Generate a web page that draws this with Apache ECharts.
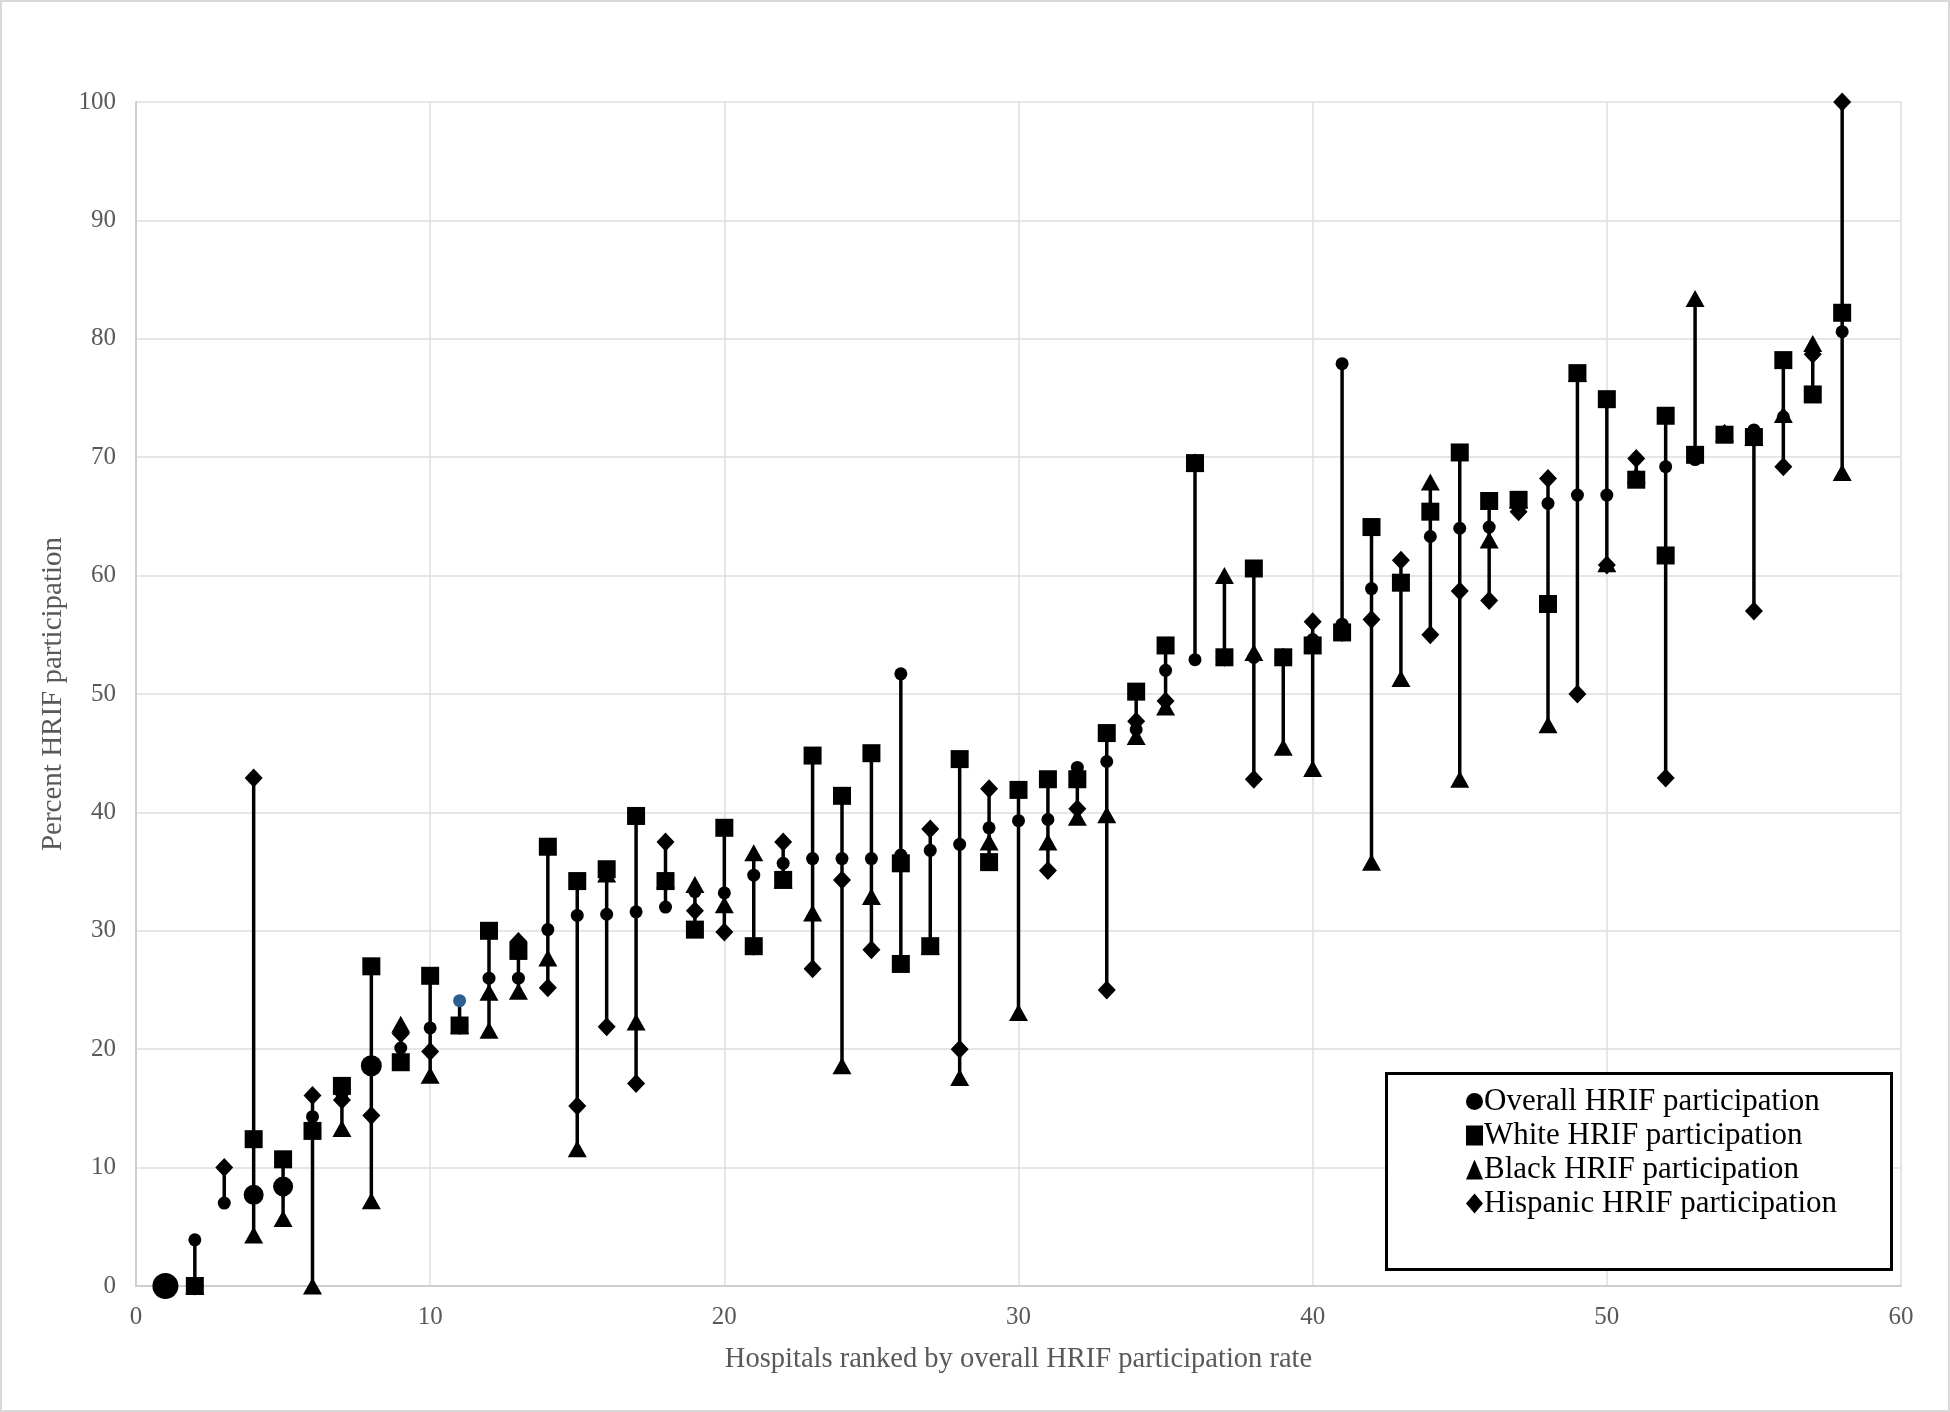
<!DOCTYPE html>
<html>
<head>
<meta charset="utf-8">
<script src="https://cdn.jsdelivr.net/npm/echarts@6/dist/echarts.min.js"></script>
<style>
  html, body { margin: 0; padding: 0; background: #fff; }
  #chart { width: 1950px; height: 1412px; box-sizing: border-box; border: 2px solid #d9d9d9; }
</style>
</head>
<body>
<div id="chart"></div>
<script>
// hospitals ranked by overall HRIF participation
const ranks = [
  1, 2, 3, 4, 5, 6, 7, 8, 9, 10,
  11, 12, 13, 14, 15, 16, 17, 18, 19, 20,
  21, 22, 23, 24, 25, 26, 27, 28, 29, 30,
  31, 32, 33, 34, 35, 36, 37, 38, 39, 40,
  41, 42, 43, 44, 45, 46, 47, 48, 49, 50,
  51, 52, 53, 54, 55, 56, 57, 58
];
const overall = [
  0, 3.9, 7.0, 7.7, 8.4, 14.3, 16.2, 18.6, 20.1, 21.8,
  24.1, 26.0, 26.0, 30.1, 31.3, 31.4, 31.6, 32.0, 33.3, 33.2,
  34.7, 35.7, 36.1, 36.1, 36.1, 36.4, 36.8, 37.3, 38.7, 39.3,
  39.4, 43.8, 44.3, 47.0, 52.0, 52.9, 53.1, 53.1, 53.1, 54.6,
  55.9, 58.9, 59.6, 63.3, 64.0, 64.1, 65.6, 66.1, 66.8, 66.8,
  68.0, 69.2, 69.8, 72.0, 72.3, 73.4, 78.7, 80.6
];
const white = [
  0, 0, null, 12.4, 10.7, 13.1, 16.9, 27.0, 18.9, 26.2,
  22.0, 30.0, 28.3, 37.1, 34.2, 35.2, 39.7, 34.2, 30.1, 38.7,
  28.7, 34.3, 44.8, 41.4, 45.0, 35.7, 28.7, 44.5, 35.8, 41.9,
  42.8, 42.8, 46.7, 50.2, 54.1, 69.5, 53.1, 60.6, 53.1, 54.1,
  55.2, 64.1, 59.4, 65.4, 70.4, 66.3, 66.4, 57.6, 77.1, 74.9,
  68.1, 73.5, 70.2, 71.9, 71.7, 78.2, 75.3, 82.2
];
const black = [
  0, 0, null, 4.3, 5.7, 0, 13.3, 7.2, 22.1, 17.8,
  22.0, 21.6, 24.9, 27.7, 11.6, 34.8, 22.3, 34.3, 33.9, 32.2,
  36.6, 34.3, 31.5, 18.6, 32.9, 27.2, 28.7, 17.6, 37.5, 23.1,
  37.5, 39.6, 39.8, 46.4, 48.9, 69.5, 60.0, 53.5, 45.5, 43.7,
  77.9, 35.8, 51.3, 67.9, 42.8, 63.0, 66.4, 47.4, 77.1, 61.0,
  68.5, 61.7, 83.4, 72.0, 71.7, 73.6, 79.6, 68.7
];
const hispanic = [
  0, 0, 10.0, 42.9, 8.2, 16.1, 15.7, 14.4, 21.3, 19.8,
  22.0, 24.8, 29.1, 25.2, 15.2, 21.9, 17.1, 37.5, 31.7, 29.9,
  28.7, 37.5, 26.8, 34.3, 28.4, 51.7, 38.6, 20.0, 42.0, 41.9,
  35.1, 40.3, 25.0, 47.7, 49.4, 69.5, 53.1, 42.8, 53.1, 56.1,
  55.2, 56.3, 61.3, 55.0, 58.7, 57.9, 65.4, 68.2, 50.0, 60.9,
  69.9, 42.9, 70.2, 72.0, 57.0, 69.2, 78.7, 100
];
const xTicks = [0, 10, 20, 30, 40, 50, 60];
const yTicks = [0, 10, 20, 30, 40, 50, 60, 70, 80, 90, 100];

// marker quirks of the original figure (by rank)
const bigCircle = { 1: 26, 4: 20, 5: 20, 8: 21 };
const blueCircle = [11];
const blackSymbolFix = { 26: 'rect', 41: 'circle', 52: 'rect' };
const hispanicSymbolFix = { 12: 'triangle', 26: 'circle' };

const SERIF = "'Liberation Serif', 'Times New Roman', serif";
const baseSize = { circle: 13, rect: 18, triangle: [19, 17], diamond: [18, 19] };

function points(values, symbol, fix, sizes, colors) {
  return values.map((v, i) => {
    const r = ranks[i];
    if (v === null) return { value: [r, null] };
    const sym = (fix && fix[r]) || symbol;
    const item = { value: [r, v], symbol: sym, symbolSize: (sizes && sizes[r]) || baseSize[sym] };
    if (colors && colors.includes(r)) item.itemStyle = { color: '#2b5f8f' };
    return item;
  });
}

const ranges = ranks.map((r, i) => {
  const vals = [overall[i], white[i], black[i], hispanic[i]].filter(v => v !== null);
  return [r, Math.min(...vals), Math.max(...vals)];
});

const chart = echarts.init(document.getElementById('chart'));

const scatter = (name, data) => ({
  name,
  type: 'scatter',
  data,
  clip: false,
  z: 3,
  itemStyle: { color: '#000', opacity: 1 },
  emphasis: { disabled: true }
});

chart.setOption({
  animation: false,
  textStyle: { fontFamily: SERIF },
  grid: { left: 134, right: 47, top: 100, bottom: 124 },
  xAxis: {
    type: 'value',
    min: xTicks[0],
    max: xTicks[xTicks.length - 1],
    interval: 10,
    name: 'Hospitals ranked by overall HRIF participation rate',
    nameLocation: 'middle',
    nameGap: 59,
    nameTextStyle: { fontSize: 28.5, color: '#595959', fontFamily: SERIF },
    axisLine: { show: true, lineStyle: { color: '#cfcfcf', width: 2 } },
    axisTick: { show: false },
    axisLabel: { fontSize: 25, color: '#595959', margin: 19, fontFamily: SERIF },
    splitLine: { show: true, lineStyle: { color: '#dedede', width: 1.5 } }
  },
  yAxis: {
    type: 'value',
    min: yTicks[0],
    max: yTicks[yTicks.length - 1],
    interval: 10,
    name: 'Percent HRIF participation',
    nameLocation: 'middle',
    nameRotate: 90,
    nameGap: 68,
    nameTextStyle: { fontSize: 29, color: '#595959', fontFamily: SERIF },
    axisLine: { show: true, lineStyle: { color: '#cfcfcf', width: 2 } },
    axisTick: { show: false },
    axisLabel: { fontSize: 25, color: '#595959', margin: 20, fontFamily: SERIF },
    splitLine: { show: true, lineStyle: { color: '#dedede', width: 1.5 } }
  },
  legend: {
    orient: 'vertical',
    left: 1459,
    top: 1079,
    itemWidth: 17,
    itemHeight: 20,
    itemGap: 3,
    textStyle: { fontSize: 31, color: '#000', fontFamily: SERIF, padding: [0, 0, 0, -4] },
    data: [
      { name: 'Overall HRIF participation', icon: 'circle' },
      { name: 'White HRIF participation', icon: 'rect' },
      { name: 'Black HRIF participation', icon: 'triangle' },
      { name: 'Hispanic HRIF participation', icon: 'diamond' }
    ],
    z: 20
  },
  graphic: [{
    type: 'rect',
    left: 1383,
    top: 1070,
    shape: { width: 505, height: 196 },
    style: { fill: '#fff', stroke: '#000', lineWidth: 3 },
    z: 10
  }],
  series: [
    {
      type: 'custom',
      name: 'range',
      data: ranges,
      encode: { x: 0, y: [1, 2] },
      z: 2,
      silent: true,
      renderItem: (params, api) => {
        const lo = api.coord([api.value(0), api.value(1)]);
        const hi = api.coord([api.value(0), api.value(2)]);
        return {
          type: 'line',
          shape: { x1: lo[0], y1: lo[1], x2: hi[0], y2: hi[1] },
          style: { stroke: '#000', lineWidth: 3.5 }
        };
      }
    },
    scatter('Hispanic HRIF participation', points(hispanic, 'diamond', hispanicSymbolFix)),
    scatter('Black HRIF participation', points(black, 'triangle', blackSymbolFix)),
    scatter('White HRIF participation', points(white, 'rect')),
    scatter('Overall HRIF participation', points(overall, 'circle', null, bigCircle, blueCircle))
  ]
});
</script>
</body>
</html>
